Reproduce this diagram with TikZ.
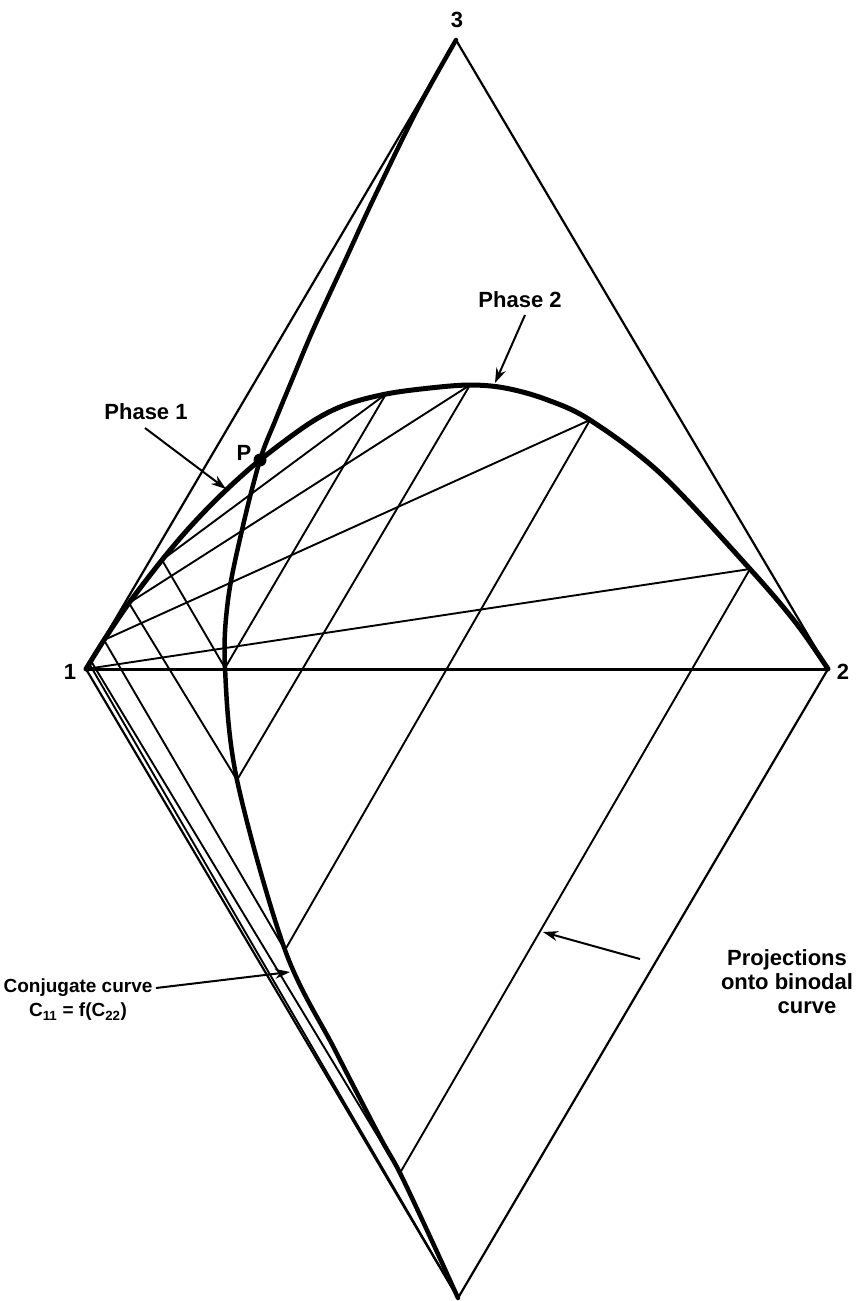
\documentclass[tikz,border=0pt]{standalone}
\usepackage{fontspec}
\setmainfont{Liberation Sans}
\usetikzlibrary{arrows.meta}
\begin{document}
\begin{tikzpicture}[x=1pt,y=-1pt,
  edgeline/.style={line width=2.2pt, line join=round},
  tieline/.style={line width=1.9pt},
  projline/.style={line width=1.9pt},
  binodal/.style={line width=5pt, line join=round, line cap=round},
  conjline/.style={line width=4.5pt, line join=round, line cap=round},
  lbl/.style={font=\fontsize{22}{24}\selectfont\bfseries, inner sep=0pt},
  pointer/.style={line width=2pt, -{Stealth[length=15pt,width=10pt]}},
]
\useasboundingbox (0,0) rectangle (863,1301);
\fill[white] (0,0) rectangle (863,1301);

% vertices
\coordinate (v3) at (456,40);
\coordinate (v1) at (86,669);
\coordinate (v2) at (828,669);
\coordinate (v4) at (458,1298);

% binodal: left ends (phase 1), right ends (phase 2)
\coordinate (A1) at (91,661);
\coordinate (A2) at (104,640);
\coordinate (A3) at (129,603);
\coordinate (A4) at (162,560);
\coordinate (P) at (260,460);
\coordinate (B4) at (386,394);
\coordinate (B3) at (470,385);
\coordinate (B2) at (590,420);
\coordinate (B1) at (750,569);

% conjugate points
\coordinate (C4) at (225,668);
\coordinate (C3) at (237,780);
\coordinate (C2) at (285,950);
\coordinate (C1) at (400,1173);
\coordinate (E1) at (90,665);

% rhombus
\draw[edgeline] (v1) -- (v3) -- (v2) -- (v4) -- cycle;
\draw[tieline] (E1) -- (v4);

% tie lines
\draw[line width=3pt] (v1) -- (v2);
\draw[tieline] (v1) -- (B1);
\draw[tieline] (A2) -- (B2);
\draw[tieline] (A3) -- (B3);
\draw[tieline] (A4) -- (B4);

% projections
\draw[projline] (B1) -- (C1);
\draw[projline] (B2) -- (C2);
\draw[projline] (B3) -- (C3);
\draw[projline] (B4) -- (C4);
\draw[projline] (A1) -- (C1);
\draw[projline] (A2) -- (C2);
\draw[projline] (A3) -- (C3);
\draw[projline] (A4) -- (C4);

% binodal curve
\draw[binodal] plot[smooth, tension=0.55] coordinates {(v1) (A2) (A3) (A4) (190,527) (222,494) (P) (310,423) (345,405) (B4) (430,388) (B3) (505,388) (545,399) (B2) (661,474) (B1) (796,623) (v2)};

% conjugate curve
\draw[conjline] plot[smooth, tension=0.55] coordinates {(v3) (417,110) (373,200) (344,263) (313,330) (292,380) (275.5,420) (P) (242,530) (228,600) (C4) (C3) (C2) (335,1050) (380,1137) (C1) (432,1241) (v4)};

\fill (P) circle (6.5);

% labels
\node[lbl] (l3) at (457,20) {3};
\node[lbl] (l1) at (70,672) {1};
\node[lbl] (l2) at (843,672) {2};
\node[lbl] (lP) at (244,453) {P};
\node[lbl] (lph1) at (146,412) {Phase 1};
\node[lbl] (lph2) at (520,300) {Phase 2};
\node[lbl, align=center, font=\fontsize{19}{24}\selectfont\bfseries] (lconj) at (78,1000) {Conjugate curve\\C\textsubscript{11} = f(C\textsubscript{22})};
\node[lbl, align=center] (lproj) at (787,982) {Projections\\onto binodal\\\hspace*{40pt}curve};

% pointers
\coordinate (ph1tail) at (145,428);
\coordinate (ph1tip) at (226,489);
\coordinate (ph2tail) at (525,315);
\coordinate (ph2tip) at (495,383);
\coordinate (cjtail) at (156,988);
\coordinate (cjtip) at (290,972);
\coordinate (prtail) at (640,959);
\coordinate (prtip) at (543,932);
\draw[pointer] (ph1tail) -- (ph1tip);
\draw[pointer] (ph2tail) -- (ph2tip);
\draw[pointer] (cjtail) -- (cjtip);
\draw[pointer] (prtail) -- (prtip);
\end{tikzpicture}
\end{document}
